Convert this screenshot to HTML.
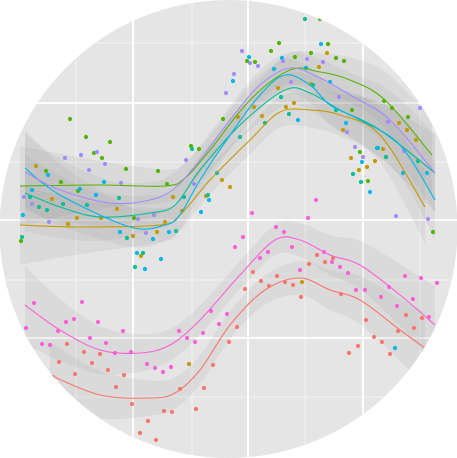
<!DOCTYPE html>
<html><head><meta charset="utf-8"><style>
html,body{margin:0;padding:0;background:#fff;width:457px;height:458px;overflow:hidden}
svg{display:block}
</style></head><body>
<svg id="chart" width="457" height="458" viewBox="0 0 457 458">
<defs><clipPath id="circ"><circle cx="228.5" cy="229" r="229"/></clipPath></defs>
<g clip-path="url(#circ)">
<rect x="0" y="0" width="457" height="458" fill="#e5e5e5"/>
<g id="grid"></g>
<g id="ribbons"></g>
<g id="points"></g>
<g id="lines"></g>
</g>
</svg>
<script>
const majorX = [13.3, 24.8, 36.3];
const minorX = [7.6, 19.2, 30.5, 42.0];
const majorY = [35.7, 24.0, 12.2];
const minorY = [41.7, 29.8, 18.0, 6.3];

const groupNames = ["red","gold","green","teal","blue","purple","pink"];
const groupColors = ["#F8766D","#C49A00","#53B400","#00C094","#00B6EB","#A58AFF","#FB61D7"];

const greenCurveX = [2,10,16.5,18.5,21,25,29,32,35,38.5,43.2];
const greenCurveY = [27.4,27.5,27.4,28.2,31,36,39,38.8,38,36,30.5];
const purpleCurveX = [2.5,6,11,15,17.5,20,23,26,29,32,35,39,43.5];
const purpleCurveY = [28.8,27,25.7,26,27.2,30,34,37.5,39.2,38.2,36.5,34,28.7];
const blueCurveX = [2.5,6,13,16.5,18,20,23,26,28.5,31,33,36,40,43.5];
const blueCurveY = [29.2,26.5,23.3,23.5,24.5,28,32.5,36.5,38.5,37.5,35.5,34,31.5,26];
const tealCurveX = [2.5,6,10,15,17.5,20,24,28.5,31,34,38,43.5];
const tealCurveY = [26.7,25.3,24.3,24.7,25.5,29,33.5,37,36.7,35,33,28.7];
const goldCurveX = [2,8,16,18,21,25,28,31,34,38,42.5];
const goldCurveY = [23.5,23.3,23.5,24.5,28,32,34.8,35,34.5,32.5,25.3];
const pinkCurveX = [2.5,6,10,14,17,20,24,27.5,30,33,36,40,43.5];
const pinkCurveY = [15.5,13,11,10.7,11.5,14,18.5,22,22,20.5,19.5,16.5,13.5];
const redCurveX = [5,10,15,17.5,20,23,26.5,30,33,36,40,42.5];
const redCurveY = [8.5,6.5,6.2,6.7,9,13.5,17,18.2,17,16,13,11.2];

const pinkPts = [[2.6,13.2],[3.4,15.7],[4.2,11.6],[5.0,11.5],[5.8,12.9],[6.6,13.8],[7.4,14.1],[8.2,15.8],[9.0,12.2],[9.8,13.8],[10.6,11.7],[11.5,10.7],[12.3,12.9],[13.1,10.8],[14.7,9.6],[15.5,9.2],[16.3,8.8],[17.1,9.3],[17.9,12.9],[18.7,12.2],[19.5,11.8],[20.3,12.7],[21.1,14.9],[21.9,13.6],[22.7,14.6],[23.5,21.3],[24.3,22.3],[25.2,24.7],[26.0,20.2],[26.8,20.8],[27.6,23.3],[28.4,22.8],[29.2,21.3],[30.0,19.0],[30.8,24.2],[31.6,26.0],[32.4,20.8],[33.2,19.8],[34.0,19.3],[34.8,18.7],[35.6,17.0],[36.5,17.0],[38.1,16.3],[38.9,17.3],[39.7,15.4],[40.5,18.4],[41.3,16.1],[42.1,18.2],[43.7,17.7],[42.9,14.3]];
const redPts = [[5.3,8.3],[5.9,9.8],[6.7,11.6],[7.5,8.6],[8.4,10.8],[9.2,9.7],[10.0,10.6],[10.8,9.0],[11.6,7.3],[12.4,8.5],[13.2,5.6],[14.0,2.7],[14.8,3.9],[15.6,2.0],[16.4,4.9],[17.2,4.8],[18.0,7.1],[19.6,5.1],[20.4,7.2],[21.3,9.5],[22.9,11.8],[23.7,13.3],[24.5,17.1],[25.3,18.8],[26.1,17.9],[26.9,17.4],[27.7,18.4],[28.5,17.8],[29.3,17.5],[30.1,16.3],[30.9,19.6],[31.7,20.5],[32.5,19.8],[33.3,20.2],[34.1,16.6],[34.9,10.7],[35.8,11.4],[36.6,14.0],[37.4,12.3],[38.2,11.8],[39.0,10.6],[39.8,12.9],[40.6,14.5],[41.4,13.2],[42.2,14.2]];
const greenPts = [[2.1,21.9],[7.0,34.1],[8.6,32.3],[9.4,30.7],[10.2,30.2],[11.0,31.8],[6.1,27.8],[12.6,29.1],[15.8,28.9],[16.7,27.6],[19.1,31.4],[19.9,31.1],[22.3,34.1],[24.7,39.9],[25.5,39.8],[27.1,40.9],[27.9,41.7],[29.5,40.3],[31.1,40.7],[32.0,44.1],[32.8,41.6],[33.6,40.2],[34.4,39.9],[35.2,35.0],[36.0,30.8],[36.8,27.9],[38.4,35.9],[39.2,35.2],[40.8,34.3],[43.3,22.8],[4.6,28.9],[7.8,26.9],[13.4,24.2]];
const tealPts = [[2.2,22.3],[3.0,26.3],[3.9,25.3],[4.7,25.0],[6.3,25.6],[8.7,25.5],[11.9,26.2],[12.7,22.2],[13.5,19.3],[14.3,20.7],[17.6,22.9],[18.4,26.3],[19.2,31.1],[20.8,26.5],[24.0,32.3],[26.5,33.7],[28.1,36.3],[28.9,34.6],[30.5,44.1],[31.3,37.5],[33.6,35.0],[35.3,28.6],[36.1,27.8],[37.7,31.2],[38.6,30.3],[41.8,29.9]];
const bluePts = [[2.3,24.5],[3.2,27.0],[4.8,28.5],[8.0,27.1],[9.6,26.5],[10.4,27.8],[12.0,22.8],[13.7,20.7],[14.5,19.1],[15.3,22.1],[16.1,20.1],[16.9,22.8],[20.1,24.8],[20.9,26.0],[21.7,28.7],[23.3,37.9],[24.9,40.3],[27.4,39.1],[28.2,40.2],[29.8,34.0],[30.6,39.2],[32.1,41.6],[33.0,37.8],[34.6,33.7],[36.2,29.8],[37.0,26.8],[37.8,31.2],[40.3,28.7],[42.7,28.7],[39.5,11.2]];
const purplePts = [[2.4,26.3],[3.2,25.6],[4.9,23.8],[6.5,30.2],[8.1,30.5],[8.9,29.0],[9.7,30.8],[10.5,29.6],[12.1,27.7],[13.8,24.1],[14.6,22.7],[15.4,24.5],[18.6,30.0],[19.4,27.6],[22.6,36.7],[23.4,38.6],[24.2,40.9],[25.0,39.7],[25.8,39.4],[28.3,39.9],[29.1,37.8],[30.7,40.1],[32.3,39.8],[33.9,36.3],[34.7,32.8],[35.5,31.3],[36.3,30.3],[38.8,33.8],[39.6,24.4],[40.4,30.9],[42.0,35.2],[42.8,24.1]];
const goldPts = [[3.6,29.4],[5.2,26.1],[6.8,23.6],[7.7,24.2],[10.1,24.2],[11.7,25.1],[13.3,22.4],[14.1,20.4],[15.7,22.8],[16.5,23.8],[17.3,26.3],[18.2,24.9],[18.9,9.6],[20.6,26.4],[22.2,28.0],[23.0,27.3],[23.8,34.3],[25.4,35.3],[26.2,34.4],[27.8,37.2],[28.6,35.3],[29.4,35.7],[31.1,37.6],[31.9,39.3],[32.7,40.7],[34.3,33.0],[35.1,30.2],[35.9,29.0],[36.7,29.3],[37.5,29.9],[38.3,31.1],[39.9,33.7],[40.7,33.0],[41.6,32.0],[30.2,17.8]];

const NS = "http://www.w3.org/2000/svg";
function xScale(d){ return 10*d; }
function yScale(d){ return 460 - 10*d; }

function mk(tag, parent, attrs){
  const e = document.createElementNS(NS, tag);
  for (const k in attrs) e.setAttribute(k, attrs[k]);
  parent.appendChild(e);
  return e;
}
function smoothPath(pts, move){
  let d = (move ? "M" : "L") + pts[0][0].toFixed(1) + "," + pts[0][1].toFixed(1);
  for (let i = 0; i < pts.length - 1; i++){
    const p0 = pts[Math.max(0,i-1)], p1 = pts[i], p2 = pts[i+1], p3 = pts[Math.min(pts.length-1,i+2)];
    const c1x = p1[0] + (p2[0]-p0[0])/6, c1y = p1[1] + (p2[1]-p0[1])/6;
    const c2x = p2[0] - (p3[0]-p1[0])/6, c2y = p2[1] - (p3[1]-p1[1])/6;
    d += "C" + c1x.toFixed(1)+","+c1y.toFixed(1)+" "+c2x.toFixed(1)+","+c2y.toFixed(1)+" "+p2[0].toFixed(1)+","+p2[1].toFixed(1);
  }
  return d;
}

const grid = document.getElementById('grid');
minorX.forEach(v => {
  const l = mk('line', grid, {x1:xScale(v), x2:xScale(v), y1:0, y2:458, stroke:'#f2f2f2', 'stroke-width':1});
  
  
});
minorY.forEach(v => {
  const l = mk('line', grid, {x1:0, x2:457, y1:yScale(v), y2:yScale(v), stroke:'#f2f2f2', 'stroke-width':1});
  
  
});
majorX.forEach(v => {
  const l = mk('line', grid, {x1:xScale(v), x2:xScale(v), y1:0, y2:458, stroke:'#ffffff', 'stroke-width':1.8});
  
  
});
majorY.forEach(v => {
  const l = mk('line', grid, {x1:0, x2:457, y1:yScale(v), y2:yScale(v), stroke:'#ffffff', 'stroke-width':1.8});
  
  
});

const curvesX = [redCurveX, goldCurveX, greenCurveX, tealCurveX, blueCurveX, purpleCurveX, pinkCurveX];
const curvesY = [redCurveY, goldCurveY, greenCurveY, tealCurveY, blueCurveY, purpleCurveY, pinkCurveY];
const pointSets = [redPts, goldPts, greenPts, tealPts, bluePts, purplePts, pinkPts];

const ribbons = document.getElementById('ribbons');
const linesG = document.getElementById('lines');
const ptsG = document.getElementById('points');

curvesX.forEach((cx, gi) => {
  const cy = curvesY[gi];
  const up = [], lo = [], mid = [];
  cx.forEach((xv, i) => {
    const t = (xv - 23) / 21;
    const hw = 1.4 + 2.6 * t * t;
    up.push([xScale(xv), yScale(cy[i] + hw)]);
    lo.push([xScale(xv), yScale(cy[i] - hw)]);
    mid.push([xScale(xv), yScale(cy[i])]);
  });
  const d = smoothPath(up, true) + smoothPath(lo.slice().reverse(), false) + "Z";
  const r = mk('path', ribbons, {d:d, fill:'rgba(140,140,140,0.11)', stroke:'none'});
  
  
  const ln = mk('path', linesG, {d:smoothPath(mid, true), fill:'none', stroke:groupColors[gi], 'stroke-width':1.1});
  
  
});

pointSets.forEach((set, gi) => {
  set.forEach(p => {
    const c = mk('circle', ptsG, {cx:xScale(p[0]), cy:yScale(p[1]), r:2.1, fill:groupColors[gi]});
    
    
  });
});
</script>
</body></html>
